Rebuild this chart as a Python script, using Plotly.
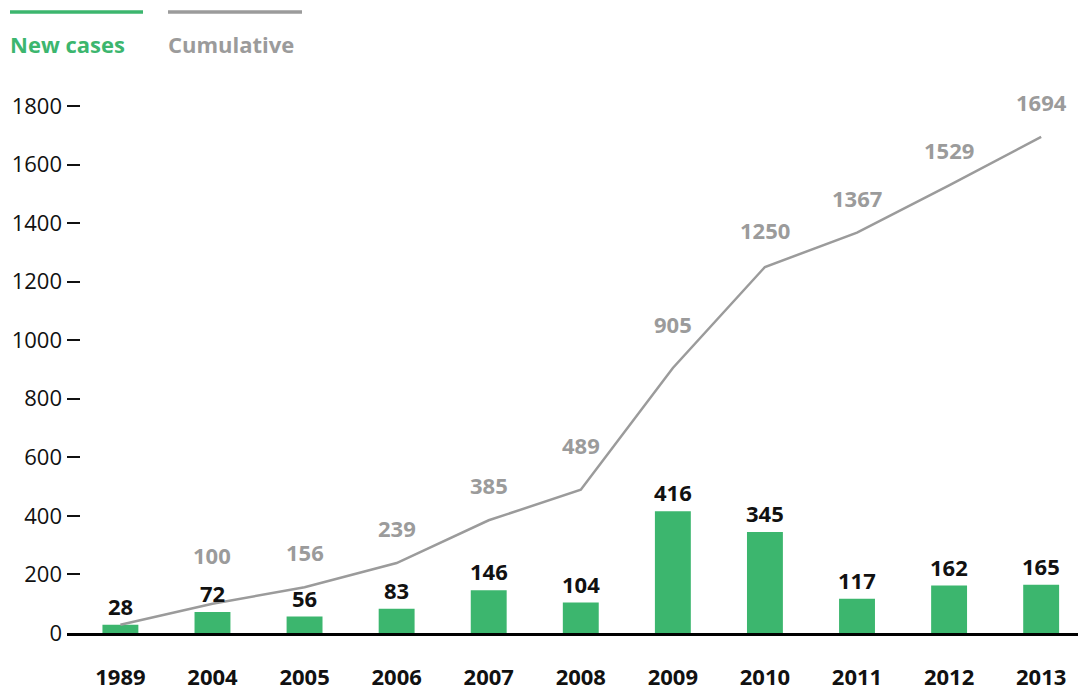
import plotly.graph_objects as go

years = ["1989", "2004", "2005", "2006", "2007", "2008", "2009", "2010", "2011", "2012", "2013"]
new_cases = [28, 72, 56, 83, 146, 104, 416, 345, 117, 162, 165]
cumulative = [28, 100, 156, 239, 385, 489, 905, 1250, 1367, 1529, 1694]
y_ticks = [0, 200, 400, 600, 800, 1000, 1200, 1400, 1600, 1800]

GREEN = "#3cb66e"
GREY = "#9b9b9b"
INK = "#111111"
FONT = "Open Sans"

fig = go.Figure()
fig.add_trace(go.Bar(x=years, y=new_cases, marker_color=GREEN, width=0.39,
                     marker_line_width=0, showlegend=False))
fig.add_trace(go.Scatter(x=years, y=cumulative, mode="lines",
                         line=dict(color=GREY, width=2.5), showlegend=False))

# value labels above the bars (category positions by index)
for i, v in enumerate(new_cases):
    fig.add_annotation(x=i, y=v, text=f"<b>{v}</b>", showarrow=False,
                       yanchor="bottom", yshift=2,
                       font=dict(family=FONT, size=22, color=INK))

# value labels above the cumulative line (first point shares the bar label)
extra_lift = {1: 14, 5: 10, 6: 9, 7: 2}
for i, v in enumerate(cumulative):
    if i == 0:
        continue
    fig.add_annotation(x=i, y=v, text=f"<b>{v}</b>", showarrow=False,
                       yanchor="bottom", yshift=18 + extra_lift.get(i, 0),
                       font=dict(family=FONT, size=22, color=GREY))

# legend drawn as coloured rules with captions underneath
L, T, W, H = 67, 91, 1011, 542
def px_x(p):
    return (p - L) / W
def px_y(p):
    return (T + H - p) / H

for (x0, x1, col, label) in [(10, 143, GREEN, "New cases"),
                             (168, 302, GREY, "Cumulative")]:
    fig.add_shape(type="line", xref="paper", yref="paper",
                  x0=px_x(x0), x1=px_x(x1), y0=px_y(12), y1=px_y(12),
                  line=dict(color=col, width=3.5))
    fig.add_annotation(xref="paper", yref="paper", x=px_x(x0 - 2), y=px_y(44),
                       text=f"<b>{label}</b>", showarrow=False,
                       xanchor="left", yanchor="middle",
                       font=dict(family=FONT, size=22, color=col))

fig.update_layout(
    width=1078, height=691,
    margin=dict(l=L, r=0, t=T, b=691 - T - H, autoexpand=False),
    paper_bgcolor="white", plot_bgcolor="white",
    xaxis=dict(type="category", range=[-0.58, 10.4], showgrid=False,
               showline=True, linecolor="black", linewidth=3, ticks="",
               tickvals=years, ticktext=[f"<b>{y}</b>" for y in years],
               tickfont=dict(family=FONT, size=22, color=INK),
               ticklabelstandoff=23, automargin=False),
    yaxis=dict(range=[0, 1851], tickvals=y_ticks, showgrid=False,
               zeroline=False, showline=False,
               ticks="inside", ticklen=13, tickwidth=2, tickcolor=INK,
               ticklabelstandoff=4, automargin=False,
               tickfont=dict(family=FONT, size=22, color=INK)),
)

fig.write_html("out.html")
